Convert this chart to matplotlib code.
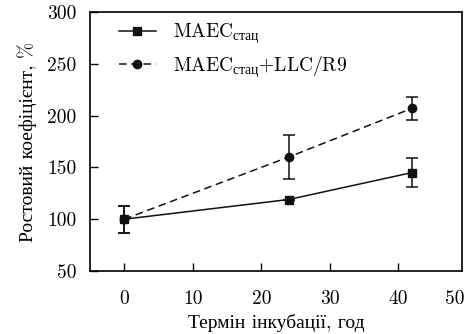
import matplotlib
matplotlib.use("Agg")
import matplotlib.pyplot as plt

plt.rcParams['font.family'] = ['cmr10', 'Liberation Serif']
plt.rcParams['mathtext.fontset'] = 'custom'
plt.rcParams['mathtext.rm'] = 'Liberation Serif'
plt.rcParams['axes.unicode_minus'] = False
plt.rcParams['axes.formatter.use_mathtext'] = False

hours = [0, 24, 42]
maec = [100, 119, 145]
maec_err = [13, 0, 14]
maec_llc = [100, 160, 207]
maec_llc_err = [13, 21, 11]
xtick_vals = [0, 10, 20, 30, 40]
ytick_vals = [50, 100, 150, 200, 250, 300]

fig = plt.figure(figsize=(4.67, 3.34), dpi=100)
ax = fig.add_axes([90 / 467, 63 / 334, 372 / 467, 259 / 334])

ax.errorbar(hours, maec, yerr=maec_err, color='#111111', linestyle='-', linewidth=1.1,
            marker='s', markersize=6, capsize=4, elinewidth=1.1, capthick=1.1,
            label=r'MAEC$_{\mathrm{стац}}$')
ax.errorbar(hours, maec_llc, yerr=maec_llc_err, color='#111111', linestyle=(0, (5, 3)),
            linewidth=1.1, marker='o', markersize=6, capsize=4, elinewidth=1.1,
            capthick=1.1, label=r'MAEC$_{\mathrm{стац}}$+LLC/R9')

ax.set_xlim(-5, 49.3)
ax.set_ylim(50, 300)
ax.set_xticks(xtick_vals)
ax.set_yticks(ytick_vals)
ax.tick_params(direction='in', length=6, width=1, labelsize=14,
               top=False, right=False)
ax.tick_params(axis='x', pad=14)
ax.tick_params(axis='y', pad=10)
# the last x label sits beyond the frame in the reference
lab50 = ax.annotate('50', xy=(48.3, 0), xycoords=('data', 'axes fraction'),
                    xytext=(0, -14), textcoords='offset points',
                    ha='center', va='top', fontsize=14, annotation_clip=False)
for s in ax.spines.values():
    s.set_linewidth(1.2)

ax.set_xlabel('Термін інкубації, год', fontsize=14, labelpad=4)
ax.set_ylabel('Ростовий коефіцієнт, %', fontsize=14, labelpad=7)

handles, labels = ax.get_legend_handles_labels()
handles = [h[0] for h in handles]
ax.legend(handles, labels, loc='upper left', frameon=False, fontsize=14,
          handlelength=1.9, handletextpad=0.9, labelspacing=0.4,
          bbox_to_anchor=(0.03, 1.03))

fig.savefig('out.png', dpi=100)
